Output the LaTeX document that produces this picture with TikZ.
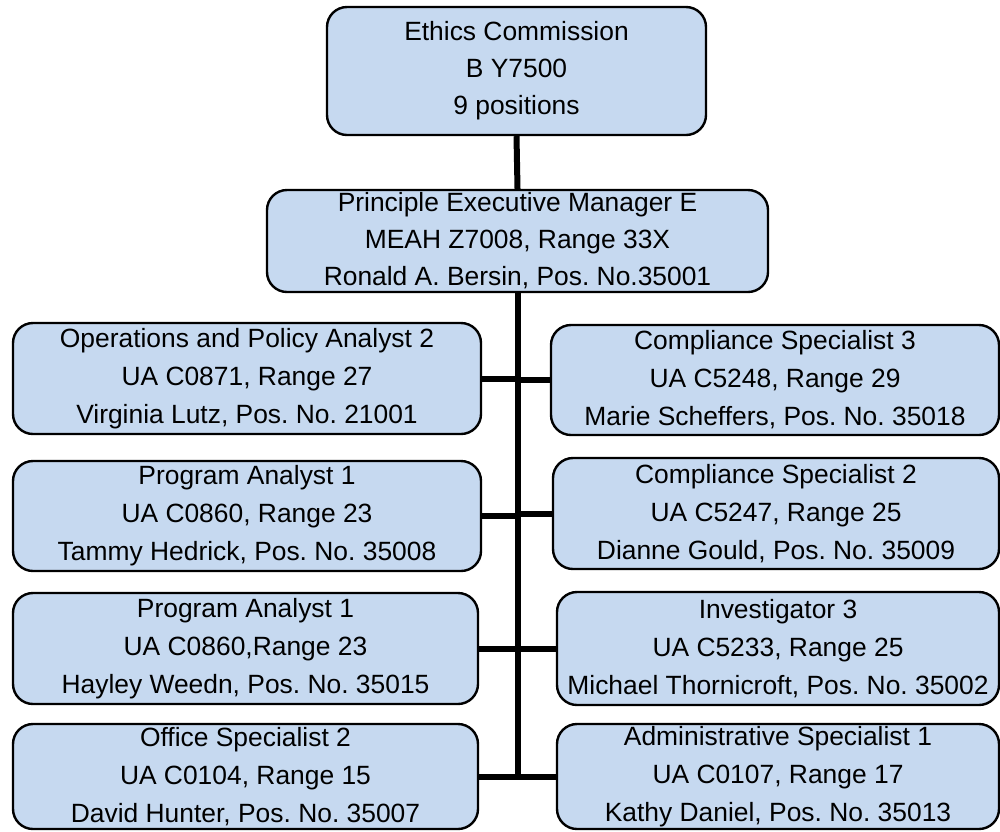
\documentclass[tikz,border=0pt]{standalone}
\usepackage{fontspec}
\setmainfont{Liberation Sans}
\definecolor{boxblue}{HTML}{C6D9F0}
\frenchspacing
\begin{document}
\begin{tikzpicture}[x=1pt,y=-1pt,
  orgbox/.style={draw=black, line width=2.4pt, fill=boxblue, rounded corners=20pt,
    align=center, inner sep=0pt, text=black},
  toptext/.style={font=\frenchspacing\fontsize{26.4}{37}\selectfont},
  rowtext/.style={font=\frenchspacing\fontsize{26.4}{38}\selectfont},
  link/.style={line width=6pt, black}]
\useasboundingbox (0,0) rectangle (1000,831);
\node[orgbox,toptext,minimum width=379pt,minimum height=128pt] (ec) at (516.5,71)
  {Ethics Commission\\B Y7500\\9 positions};
\node[orgbox,toptext,minimum width=501pt,minimum height=102pt] (pem) at (517.5,241)
  {Principle Executive Manager E\\MEAH Z7008, Range 33X\\Ronald A. Bersin, Pos. No.35001};
\node[orgbox,rowtext,minimum width=468pt,minimum height=111pt] (l1) at (247,378.5)
  {Operations and Policy Analyst 2\\UA C0871, Range 27\\Virginia Lutz, Pos. No. 21001};
\node[orgbox,rowtext,minimum width=468pt,minimum height=110pt] (l2) at (247,516)
  {Program Analyst 1\\UA C0860, Range 23\\Tammy Hedrick, Pos. No. 35008};
\node[orgbox,rowtext,minimum width=465pt,minimum height=111pt] (l3) at (245.5,648.5)
  {Program Analyst 1\\UA C0860,Range 23\\Hayley Weedn, Pos. No. 35015};
\node[orgbox,rowtext,minimum width=465pt,minimum height=105pt] (l4) at (245.5,776.5)
  {Office Specialist 2\\UA C0104, Range 15\\David Hunter, Pos. No. 35007};
\node[orgbox,rowtext,minimum width=448pt,minimum height=110pt] (r1) at (775,380)
  {Compliance Specialist 3\\UA C5248, Range 29\\Marie Scheffers, Pos. No. 35018};
\node[orgbox,rowtext,minimum width=446pt,minimum height=111pt] (r2) at (776,513.5)
  {Compliance Specialist 2\\UA C5247, Range 25\\Dianne Gould, Pos. No. 35009};
\node[orgbox,rowtext,minimum width=442pt,minimum height=113pt] (r3) at (778,648.5)
  {Investigator 3\\UA C5233, Range 25\\Michael Thornicroft, Pos. No. 35002};
\node[orgbox,rowtext,minimum width=442pt,minimum height=105pt] (r4) at (778,776.5)
  {Administrative Specialist 1\\UA C0107, Range 17\\Kathy Daniel, Pos. No. 35013};
% connectors
\coordinate (spineend) at (pem.south |- l4.east);
\draw[link] (ec.south) -- (pem.north);
\draw[link] (pem.south) -- ([yshift=3pt]spineend);
\foreach \n in {l1,l2,l3,l4}{
  \draw[link] (\n.east) -- (\n.east -| pem.south);
}
\foreach \n in {r1,r2,r3,r4}{
  \draw[link] (\n.west) -- (\n.west -| pem.south);
}
\end{tikzpicture}
\end{document}
